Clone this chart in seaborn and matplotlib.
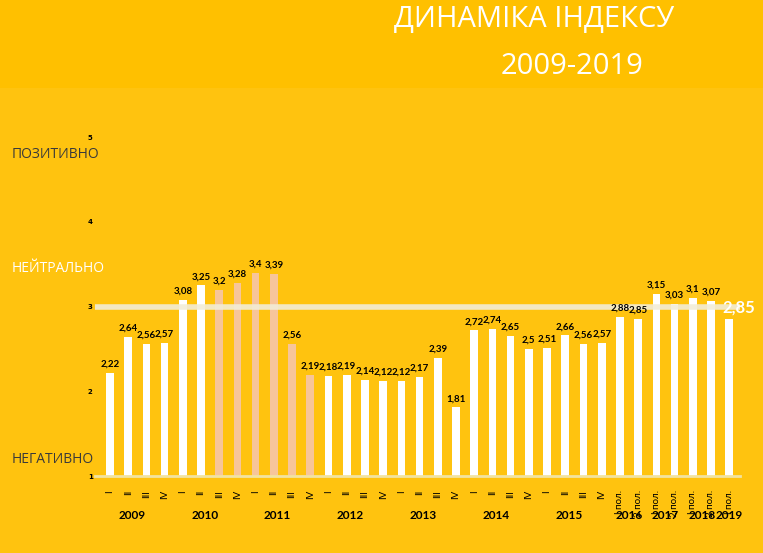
import matplotlib
matplotlib.use("Agg")
import matplotlib.pyplot as plt
import matplotlib.patches as mpatches
import seaborn as sns
import pandas as pd

periods = ["I","II","III","IV"]*7 + ["I пол.","2 пол.","I пол.","2 пол.","I пол.","2 пол.","I пол."]
years = ["2009","2010","2011","2012","2013","2014","2015","2016","2017","2018","2019"]
year_counts = [4,4,4,4,4,4,4,2,2,2,1]
values = [2.22,2.64,2.56,2.57, 3.08,3.25,3.2,3.28, 3.4,3.39,2.56,2.19,
          2.18,2.19,2.14,2.12, 2.12,2.17,2.39,1.81, 2.72,2.74,2.65,2.5,
          2.51,2.66,2.56,2.57, 2.88,2.85,3.15,3.03,3.1,3.07,2.85]
highlight = [False]*6 + [True]*6 + [False]*23
zones = ["ПОЗИТИВНО","НЕЙТРАЛЬНО","НЕГАТИВНО"]
zone_y = [4.8,3.45,1.2]

df = pd.DataFrame({"idx":[str(i) for i in range(len(values))],"value":values})
colors = ["#F7C59A" if h else "white" for h in highlight]

bg = "#FFC000"
fig = plt.figure(figsize=(7.63,5.53), dpi=100, facecolor=bg)
rect = mpatches.Rectangle((0.0,0.0),1,0.84,transform=fig.transFigure,
                          facecolor="#FFC30F",edgecolor="none",zorder=-5)
fig.patches.append(rect)
ax = fig.add_axes([0.125,0.139,0.845,0.613], zorder=2)
ax.set_facecolor("none")
sns.barplot(data=df,x="idx",y="value",hue="idx",palette=colors,legend=False,
            width=0.42,ax=ax,saturation=1)
ax.set_ylim(1,5)
ax.set_xlim(-0.8,len(values)-0.4)
ax.axhline(3,color="#F2EDD8",lw=4,alpha=0.9,zorder=3)
for i,v in enumerate(values):
    if i==len(values)-1:
        ax.text(i-0.35,v+0.05,f"{v:g}".replace(".",","),color="white",fontsize=12,
                fontweight="bold",ha="left",va="bottom",zorder=5,fontfamily="Lato")
    else:
        ax.text(i,v+0.05,f"{v:g}".replace(".",","),color="black",fontsize=7,
                fontweight="bold",ha="center",va="bottom",zorder=5,fontfamily="Lato")
ax.set_yticks([1,2,3,4,5])
ax.set_yticklabels(["1","2","3","4","5"],fontsize=5,fontweight="bold")
ax.tick_params(axis="y",length=0,pad=2)
ax.set_xticks(range(len(values)))
ax.set_xticklabels(periods,rotation=90,fontsize=7,fontfamily="Lato")
ax.tick_params(axis="x",length=0,pad=10)
for s in ["top","right","left"]:
    ax.spines[s].set_visible(False)
ax.spines["bottom"].set_color("#F2E3A0"); ax.spines["bottom"].set_linewidth(2)
ax.set_xlabel(""); ax.set_ylabel("")
start=0
for y,c in zip(years,year_counts):
    center=start+(c-1)/2
    if c==4: center-=0.3
    ax.text(center,-0.115,y,transform=ax.get_xaxis_transform(),ha="center",va="center",
            fontsize=8.5,fontweight="bold",fontfamily="Lato")
    start+=c
for z,yy in zip(zones,zone_y):
    ax.text(-0.13,yy,z,transform=ax.get_yaxis_transform(),ha="left",va="center",
            fontsize=10,color="#3A3A3A" if z!="НЕЙТРАЛЬНО" else "white",fontfamily="Open Sans")
fig.text(0.70,0.965,"ДИНАМІКА ІНДЕКСУ",color="white",fontsize=21,ha="center",va="center",fontfamily="Open Sans")
fig.text(0.75,0.88,"2009-2019",color="white",fontsize=21,ha="center",va="center",fontfamily="Open Sans")
fig.savefig("out.png",dpi=100,facecolor=bg)
